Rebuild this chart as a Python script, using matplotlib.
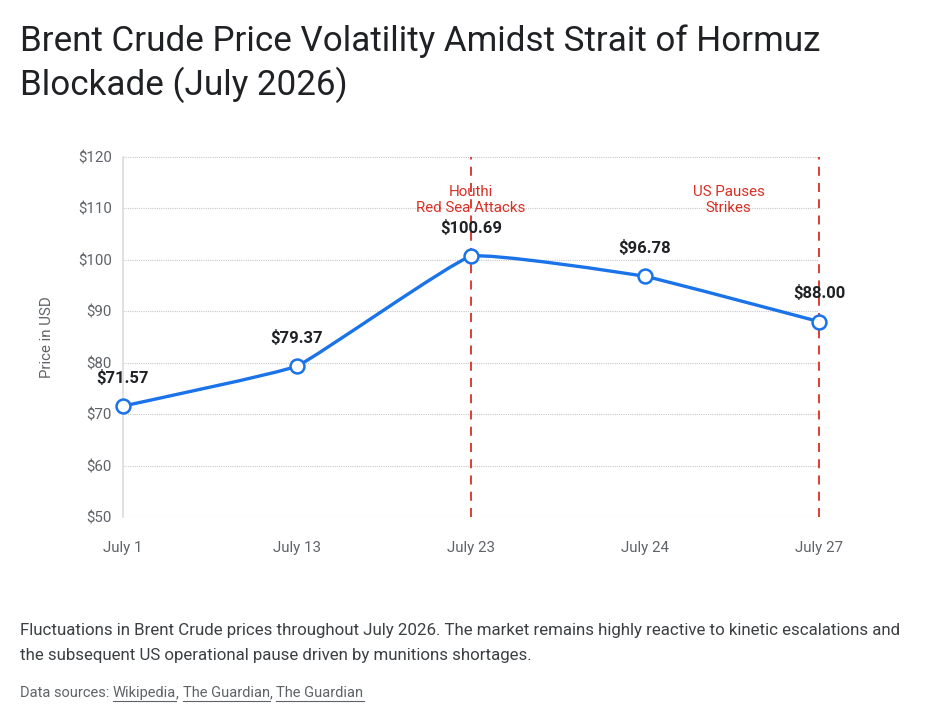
import numpy as np
import matplotlib
matplotlib.use("Agg")
import matplotlib.pyplot as plt
from matplotlib.path import Path
from matplotlib.patches import PathPatch
from matplotlib.lines import Line2D

plt.rcParams['font.family'] = ['Roboto', 'DejaVu Sans']

dates = ["July 1", "July 13", "July 23", "July 24", "July 27"]
prices = [71.57, 79.37, 100.69, 96.78, 88.00]
events = ["Houthi\nRed Sea Attacks", "US Pauses\nStrikes"]
event_dates = ["July 23", "July 27"]
sources = ["Wikipedia", "The Guardian", "The Guardian"]

BLUE = "#1a73e8"
RED = "#d93025"
GRAY = "#5f6368"

fig = plt.figure(figsize=(9.31, 7.21), dpi=100)
ax = fig.add_axes([0.1321, 0.2829, 0.7476, 0.4993])
ax.set_xlim(0, len(dates) - 1)
ax.set_ylim(50, 120)

x = np.arange(len(dates))
y = np.array(prices)

# slightly tensioned line, control points worked out in screen space
tension = 0.1
P = ax.transData.transform(np.column_stack([x, y]))
n = len(P)
cp_prev, cp_next = P.copy(), P.copy()
for i in range(n):
    prv = P[max(i - 1, 0)]
    nxt = P[min(i + 1, n - 1)]
    d01 = np.hypot(*(P[i] - prv))
    d12 = np.hypot(*(nxt - P[i]))
    tot = d01 + d12
    fa = tension * d01 / tot if tot else 0
    fb = tension * d12 / tot if tot else 0
    cp_prev[i] = P[i] - fa * (nxt - prv)
    cp_next[i] = P[i] + fb * (nxt - prv)
inv = ax.transData.inverted()
cp_prev, cp_next = inv.transform(cp_prev), inv.transform(cp_next)
verts = [(x[0], y[0])]
codes = [Path.MOVETO]
for i in range(n - 1):
    verts += [tuple(cp_next[i]), tuple(cp_prev[i + 1]), (x[i + 1], y[i + 1])]
    codes += [Path.CURVE4] * 3
ax.add_patch(PathPatch(Path(verts, codes), fill=False, edgecolor=BLUE, lw=2.4, zorder=3))
ax.plot(x, y, ls="none", marker="o", ms=10, mfc="white", mec=BLUE, mew=1.8, zorder=4, clip_on=False)

for xi, yi in zip(x, y):
    ax.annotate(f"${yi:.2f}", (xi, yi), xytext=(0, 20.5), textcoords="offset points",
                ha="center", va="center", fontsize=12, fontweight="bold", color="#202124", zorder=5)

for label, dt in zip(events, event_dates):
    xi = dates.index(dt)
    ax.axvline(xi, color=RED, lw=1.3, ls=(0, (5, 4)), zorder=2, clip_on=False)
    tx = xi if xi < len(dates) - 1 else xi - 0.52
    ax.text(tx, 111.6, label, ha="center", va="center", color=RED, fontsize=10.9,
            linespacing=1.2, zorder=6)

ax.set_yticks(np.arange(50, 121, 10))
ax.set_yticklabels([f"${v}" for v in range(50, 121, 10)])
ax.set_xticks(x)
ax.set_xticklabels(dates)
ax.tick_params(colors=GRAY, labelsize=10.8, length=0, pad=17)
ax.tick_params(axis="y", pad=8)
ax.grid(axis="y", color="#c8c8c8", ls=(0, (1, 1)), lw=0.8)
for s in ["top", "right", "bottom"]:
    ax.spines[s].set_visible(False)
ax.spines["left"].set_color("#dadce0")
ax.spines["left"].set_linewidth(1.2)
ax.set_ylabel("Price in USD", color=GRAY, fontsize=10.8, labelpad=17)

fig.text(0.0215, 0.966, "Brent Crude Price Volatility Amidst Strait of Hormuz\nBlockade (July 2026)",
         ha="left", va="top", fontsize=25.2, color="#202124", linespacing=1.3)

fig.text(0.0215, 0.108, "Fluctuations in Brent Crude prices throughout July 2026. The market remains highly reactive to kinetic escalations and\n"
         "the subsequent US operational pause driven by munitions shortages.",
         ha="left", va="center", fontsize=12.15, color="#3c4043", linespacing=1.8)

# sources line with underlined links
fig.canvas.draw()
r = fig.canvas.get_renderer()
fs = 10.5
xpos = 0.0215
yb = 0.033
t = fig.text(xpos, yb, "Data sources: ", ha="left", va="baseline", fontsize=fs, color=GRAY)
xpos = t.get_window_extent(r).x1 / fig.bbox.width
for i, src in enumerate(sources):
    t = fig.text(xpos, yb, src, ha="left", va="baseline", fontsize=fs, color=GRAY)
    bb = t.get_window_extent(r)
    x0, x1 = bb.x0 / fig.bbox.width, bb.x1 / fig.bbox.width
    fig.add_artist(Line2D([x0, x1], [yb - 0.005, yb - 0.005], color=GRAY, lw=0.8))
    xpos = x1
    if i < len(sources) - 1:
        t = fig.text(xpos, yb, ", ", ha="left", va="baseline", fontsize=fs, color=GRAY)
        xpos = t.get_window_extent(r).x1 / fig.bbox.width

fig.savefig("out.png", dpi=100, facecolor="white")
